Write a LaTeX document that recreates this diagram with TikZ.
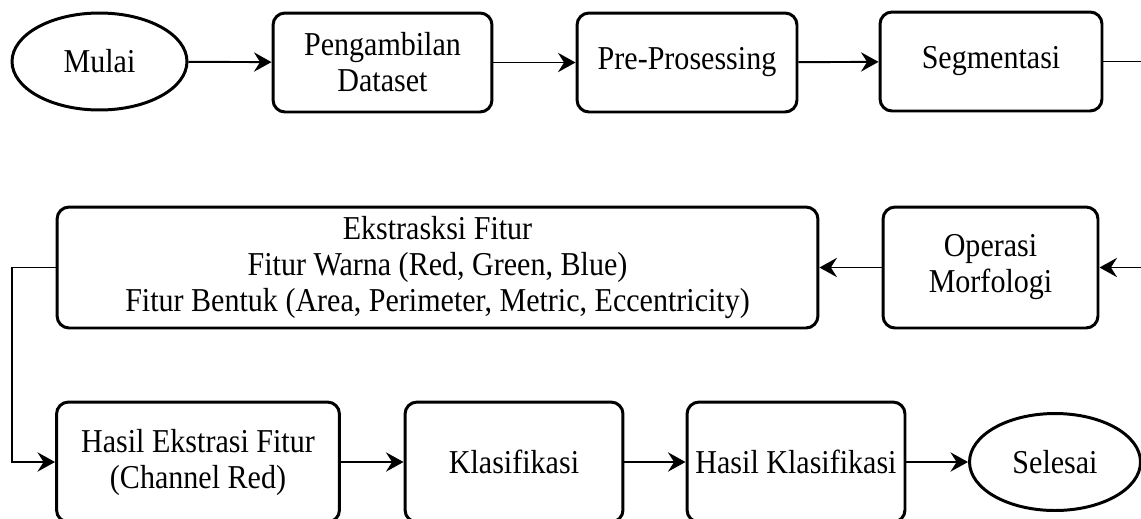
\documentclass[tikz,border=0pt]{standalone}
\usepackage{fontspec}
\setmainfont{Liberation Serif}[FakeStretch=0.9]
\usetikzlibrary{shapes.geometric,arrows.meta}
\newcommand{\teks}{\fontsize{19}{20.5}\selectfont}

\begin{document}
\begin{tikzpicture}[x=0.02cm,y=-0.02cm,
    proses/.style={draw, rounded corners=0.24cm, line width=1.7pt, align=center, font=\teks, minimum height=1.98cm},
    terminal/.style={draw, ellipse, line width=1.7pt, font=\teks, minimum width=3.5cm, minimum height=1.94cm},
    panah/.style={-{Stealth[length=10pt,width=11pt,inset=3.5pt]}, line width=1.1pt},
    garis/.style={line width=1.1pt}]
    \useasboundingbox (0,0) rectangle (1141,518);
    \clip (0,0) rectangle (1141,518);
    \node[terminal] (mulai) at (99.5,61.5) {Mulai};
    \node[proses, minimum width=4.38cm] (dataset) at (382.5,62.5) {Pengambilan\\Dataset};
    \node[proses, minimum width=4.4cm] (prepro) at (687,62.5) {Pre-Prosessing};
    \node[proses, minimum width=4.44cm] (segmen) at (991,61.5) {Segmentasi};
    \node[proses, minimum width=4.3cm, minimum height=2.42cm] (morfo) at (990.5,267.5) {Operasi\\Morfologi};
    \node[proses, minimum width=15.22cm, minimum height=2.42cm] (ekstraksi) at (437.5,267.5) {Ekstrasksi Fitur\\Fitur Warna (Red, Green, Blue)\\Fitur Bentuk (Area, Perimeter, Metric, Eccentricity)};
    \node[proses, minimum width=5.66cm, minimum height=2.4cm] (hasilfitur) at (198,462) {Hasil Ekstrasi Fitur\\(Channel Red)};
    \node[proses, minimum width=4.36cm, minimum height=2.4cm] (klasif) at (514,462) {Klasifikasi};
    \node[proses, minimum width=4.36cm, minimum height=2.4cm, inner sep=0pt] (hasilklas) at (796,462) {Hasil Klasifikasi};
    \node[terminal, minimum width=3.42cm] (selesai) at (1055,462) {Selesai};

    \draw[panah] (mulai) -- (dataset);
    \draw[panah] (dataset) -- (prepro);
    \draw[panah] (prepro) -- (segmen);
    \draw[panah] (segmen.east) -- ++(60,0) |- (morfo.east);
    \draw[panah] (morfo) -- (ekstraksi);
    \draw[panah] (ekstraksi.west) -- ++(-44,0) |- (hasilfitur.west);
    \draw[panah] (hasilfitur) -- (klasif);
    \draw[panah] (klasif) -- (hasilklas);
    \draw[panah] (hasilklas) -- (selesai);
\end{tikzpicture}
\end{document}
